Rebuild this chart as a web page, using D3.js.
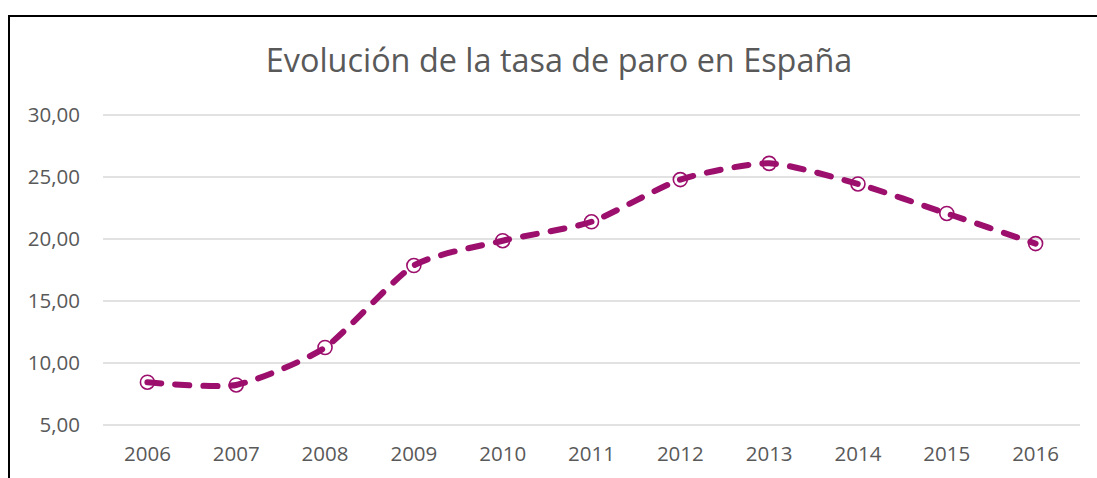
<!DOCTYPE html>
<html>
<head>
<meta charset="utf-8">
<script src="https://cdn.jsdelivr.net/npm/d3@7"></script>
<style>
  html, body { margin: 0; padding: 0; background: #fff; }
  svg { display: block; }
  text { font-family: "Open Sans", "Noto Sans", sans-serif; fill: #595959; }
</style>
</head>
<body>
<div id="chart"></div>
<script>
var title = 'Evolución de la tasa de paro en España';
var years = ['2006', '2007', '2008', '2009', '2010', '2011', '2012', '2013', '2014', '2015', '2016'];
var paro = [8.45, 8.23, 11.25, 17.86, 19.86, 21.39, 24.79, 26.10, 24.44, 22.06, 19.63];
var yTicks = [5, 10, 15, 20, 25, 30];

var width = 1097, height = 478;
var plot = { left: 103, right: 1080, top: 115, bottom: 425 };
var lineColor = '#9c0f6c';

var svg = d3.select('#chart').append('svg')
    .attr('width', width)
    .attr('height', height);

// chart border (cut off at right and bottom)
svg.append('path')
    .attr('d', 'M9,' + (height + 5) + 'V16H' + (width + 5))
    .attr('fill', 'none')
    .attr('stroke', '#000')
    .attr('stroke-width', 2);

svg.append('text')
    .attr('x', 559)
    .attr('y', 72)
    .attr('text-anchor', 'middle')
    .style('font-size', '32.4px')
    .text(title);

var x = d3.scaleBand().domain(years).range([plot.left, plot.right]);
var y = d3.scaleLinear().domain([5, 30]).range([plot.bottom, plot.top]);

var fmt = function (v) { return d3.format('.2f')(v).replace('.', ','); };

// gridlines
svg.append('g')
    .selectAll('line')
    .data(yTicks)
    .join('line')
    .attr('x1', plot.left)
    .attr('x2', plot.right)
    .attr('y1', function (d) { return y(d); })
    .attr('y2', function (d) { return y(d); })
    .attr('stroke', '#d9d9d9')
    .attr('stroke-width', 1.5);

// y axis labels
var yAxis = svg.append('g')
    .attr('transform', 'translate(' + (plot.left - 23) + ',0)')
    .call(d3.axisLeft(y).tickValues(yTicks).tickFormat(fmt).tickSize(0).tickPadding(0));
yAxis.select('.domain').remove();
yAxis.selectAll('text')
    .style('font-size', '20.5px')
    .style('font-family', '"Open Sans", sans-serif')
    .attr('fill', '#595959');

// x axis labels
var xAxis = svg.append('g')
    .attr('transform', 'translate(0,' + (plot.bottom + 21) + ')')
    .call(d3.axisBottom(x).tickSize(0).tickPadding(0));
xAxis.select('.domain').remove();
xAxis.selectAll('text')
    .style('font-size', '20.5px')
    .style('font-family', '"Open Sans", sans-serif')
    .attr('fill', '#595959');

var pts = years.map(function (yr, i) { return [x(yr) + x.bandwidth() / 2, y(paro[i])]; });

svg.append('path')
    .datum(pts)
    .attr('d', d3.line().curve(d3.curveCardinal.tension(0.35)))
    .attr('fill', 'none')
    .attr('stroke', lineColor)
    .attr('stroke-width', 6)
    .attr('stroke-linecap', 'round')
    .attr('stroke-dasharray', '14,14');

svg.append('g')
    .selectAll('circle')
    .data(pts)
    .join('circle')
    .attr('cx', function (d) { return d[0]; })
    .attr('cy', function (d) { return d[1]; })
    .attr('r', 7)
    .attr('fill', 'none')
    .attr('stroke', lineColor)
    .attr('stroke-width', 1.6);
</script>
</body>
</html>
